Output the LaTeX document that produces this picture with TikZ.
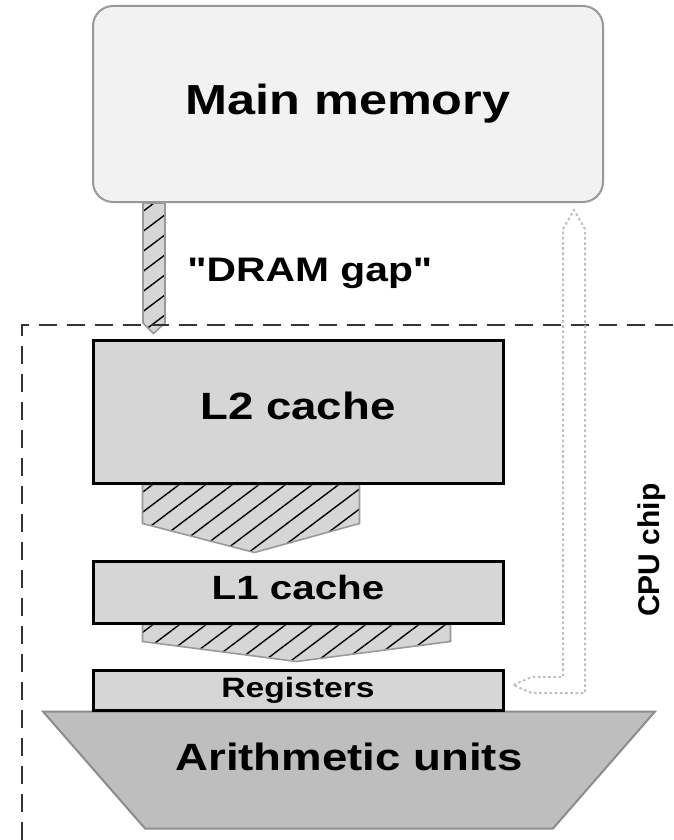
\documentclass[tikz,border=0pt]{standalone}
\usepackage{fontspec}
\newfontfamily\memfont{Liberation Sans}[FakeStretch=1.2]
\newfontfamily\chipfont{Liberation Sans}
\usetikzlibrary{calc}
\usetikzlibrary{backgrounds}
\usetikzlibrary{patterns.meta}
\definecolor{boxgray}{gray}{0.84}
\definecolor{memgray}{gray}{0.95}
\definecolor{alugray}{gray}{0.745}
\definecolor{edgegray}{gray}{0.6}
\definecolor{hatchgray}{gray}{0.84}
\definecolor{chipline}{gray}{0.2}
\definecolor{ghostgray}{gray}{0.75}
\tikzset{txt/.style={font=\memfont\bfseries\fontsize{#1}{#1}\selectfont}}
\tikzset{box/.style={draw,line width=1.5pt,fill=boxgray,minimum width=205pt,inner sep=0pt}}
\tikzset{hatch/.style={draw=edgegray,line width=0.8pt,preaction={fill=hatchgray},
  pattern={Lines[angle=37,distance=8pt,line width=0.7pt]},pattern color=black}}
\tikzset{ghost/.style={draw=ghostgray,line width=1pt,dash pattern=on 1.3pt off 1.3pt}}

\begin{document}
\begin{tikzpicture}[x=0.5pt,y=-0.5pt]
        \useasboundingbox (0,0) rectangle (674,840);
        % memory and caches
        \node[draw=edgegray,line width=1pt,fill=memgray,rounded corners=10pt,
          minimum width=255pt,minimum height=98pt,txt=21] (mem) at (348,104) {Main memory};
        \node[box,minimum height=71.5pt,txt=19,text depth=6pt] (l2) at (298,411.5) {L2 cache};
        \node[box,minimum height=31pt,txt=16.8,text depth=5pt] (l1) at (298,592) {L1 cache};
        \node[box,minimum height=20pt,txt=14] (regs) at (298,690) {Registers};
        \node[txt=19,inner sep=0pt] (alu) at (349,757) {Arithmetic units};
        \node[txt=17,inner sep=0pt,anchor=base west] (gap) at (187,281) {"DRAM gap"};
        \node[font=\chipfont\bfseries\fontsize{15}{15}\selectfont,rotate=90,inner sep=0pt] (chip) at (652,550) {CPU chip};
        % chip border
        \draw[chipline,line width=1.3pt,dash pattern=on 9pt off 5pt] (22,840) |- (674,325);
        \begin{scope}[on background layer]
          \draw[draw=gray!90,line width=1pt,fill=alugray]
            ($(regs.south)+(-255,0)$) -- ($(regs.south)+(357,0)$)
            -- ($(regs.south)+(255,117)$) -- ($(regs.south)+(-153,117)$) -- cycle;
          \draw[hatch] ($(mem.south west)+(51,0)$) -- ($(mem.south west)+(51,120)$)
            -- ($(l2.north west)+(62,-5)$) -- ($(mem.south west)+(73,120)$)
            -- ($(mem.south west)+(73,0)$) -- cycle;
          \draw[hatch] ($(l2.south west)+(51,0)$) -- ($(l2.south west)+(268,0)$)
            -- ($(l2.south west)+(268,39)$) -- ($(l1.north west)+(163,-7)$)
            -- ($(l2.south west)+(51,39)$) -- cycle;
          \draw[hatch] ($(l1.south west)+(51,0)$) -- ($(l1.south west)+(359,0)$)
            -- ($(l1.south west)+(359,17)$) -- ($(regs.north west)+(205,-7)$)
            -- ($(l1.south west)+(51,17)$) -- cycle;
        \end{scope}
        % way back to memory
        \coordinate (hi) at ($(mem.south)+(226,7)$);
        \coordinate (lo) at ($(regs.east)+(9,-5)$);
        \draw[ghost] (lo) -- ++(18,-8) -| ($(hi)+(-11,19)$) -- (hi)
          -- ($(hi)+(11,19)$) |- ($(lo)+(18,8)$) -- cycle;
\end{tikzpicture}
\end{document}
